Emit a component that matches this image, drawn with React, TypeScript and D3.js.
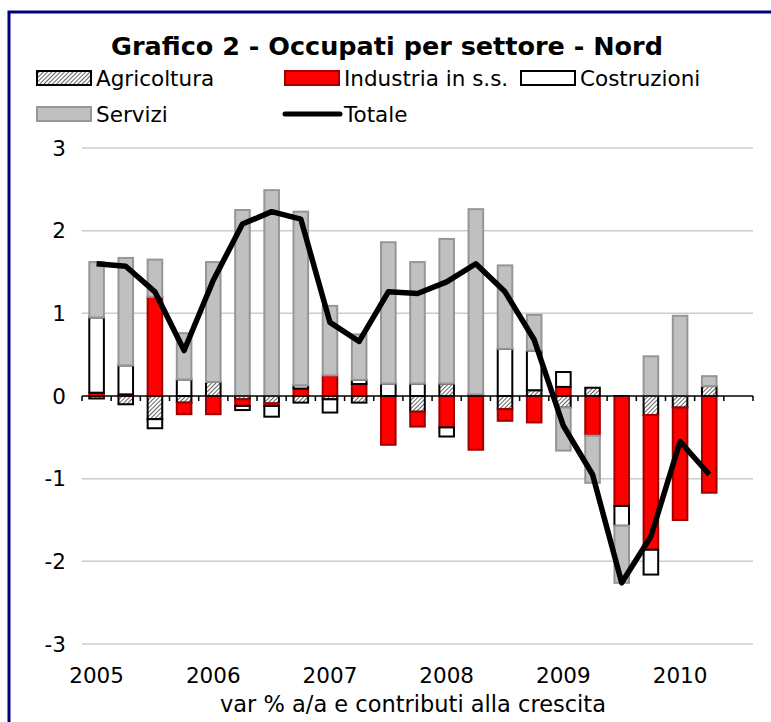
import React from "react";
import * as d3 from "d3";

// quarters 2005Q1..2010Q3 (last category left empty, as in the original)
const quarters = [
  "2005Q1", "2005Q2", "2005Q3", "2005Q4",
  "2006Q1", "2006Q2", "2006Q3", "2006Q4",
  "2007Q1", "2007Q2", "2007Q3", "2007Q4",
  "2008Q1", "2008Q2", "2008Q3", "2008Q4",
  "2009Q1", "2009Q2", "2009Q3", "2009Q4",
  "2010Q1", "2010Q2", "2010Q3",
];
const yearLabels = ["2005", "2006", "2007", "2008", "2009", "2010"];

const agricoltura = [-0.03, -0.1, -0.28, -0.08, 0.17, -0.04, -0.09, -0.08, -0.04, -0.08, 0, -0.19, 0.15, 0.02, -0.16, 0.07, -0.14, 0.1, 0, -0.23, -0.14, 0.12];
const industria = [0.04, 0.02, 1.2, -0.14, -0.22, -0.08, -0.03, 0.09, 0.25, 0.145, -0.59, -0.18, -0.38, -0.65, -0.14, -0.32, 0.11, -0.48, -1.33, -1.63, -1.36, -1.17];
const costruzioni = [0.91, 0.35, -0.11, 0.2, 0, -0.05, -0.13, 0.04, -0.16, 0.05, 0.15, 0.15, -0.11, 0, 0.57, 0.48, 0.18, 0, -0.24, -0.3, 0, 0];
const servizi = [0.67, 1.3, 0.45, 0.56, 1.45, 2.25, 2.49, 2.1, 0.84, 0.55, 1.71, 1.47, 1.75, 2.24, 1.01, 0.43, -0.52, -0.57, -0.69, 0.48, 0.97, 0.12];
const totale = [1.6, 1.57, 1.26, 0.55, 1.4, 2.08, 2.23, 2.14, 0.89, 0.66, 1.26, 1.24, 1.38, 1.6, 1.26, 0.68, -0.36, -0.95, -2.26, -1.7, -0.55, -0.95];

const yTicks = [3, 2, 1, 0, -1, -2, -3];
const seriesKeys = ["Agricoltura", "Industria in s.s.", "Costruzioni", "Servizi"];

const fills: Record<string, string> = {
  "Agricoltura": "url(#hatch)",
  "Industria in s.s.": "#ff0000",
  "Costruzioni": "#ffffff",
  "Servizi": "#c0c0c0",
};
const strokes: Record<string, string> = {
  "Agricoltura": "#000000",
  "Industria in s.s.": "#a00000",
  "Costruzioni": "#000000",
  "Servizi": "#969696",
};

const W = 771;
const H = 722;
const font = "'DejaVu Sans', Verdana, sans-serif";

export default function App() {
  const rows = totale.map((t, i) => ({
    q: quarters[i],
    "Agricoltura": agricoltura[i],
    "Industria in s.s.": industria[i],
    "Costruzioni": costruzioni[i],
    "Servizi": servizi[i],
  }));

  const stacked = d3
    .stack<any>()
    .keys(seriesKeys)
    .offset(d3.stackOffsetDiverging)(rows);

  const x = d3.scaleBand().domain(quarters).range([82, 753]).padding(0);
  const bw = x.bandwidth();
  const y = d3.scaleLinear().domain([-3, 3]).range([644, 148]);

  const line = d3
    .line<number>()
    .x((d, i) => (x(quarters[i]) as number) + bw / 2)
    .y((d) => y(d));

  const legend = [
    { key: "Agricoltura", lx: 37, ly: 78, kind: "rect" },
    { key: "Industria in s.s.", lx: 285, ly: 78, kind: "rect" },
    { key: "Costruzioni", lx: 521, ly: 78, kind: "rect" },
    { key: "Servizi", lx: 37, ly: 114, kind: "rect" },
    { key: "Totale", lx: 285, ly: 114, kind: "line" },
  ];

  return (
    <svg width={W} height={H} style={{ position: "absolute", left: 0, top: 0, background: "#fff" }}>
      <defs>
        <pattern id="hatch" width="3" height="3" patternUnits="userSpaceOnUse" patternTransform="rotate(45)">
          <rect width="3" height="3" fill="#ffffff" />
          <line x1="0" y1="0" x2="0" y2="3" stroke="#222" strokeWidth="1.4" />
        </pattern>
      </defs>
      <rect x={9} y={12} width={W + 20} height={H + 20} fill="#fff" stroke="#000080" strokeWidth={3} />

      <text x={387} y={55} textAnchor="middle" fontFamily={font} fontWeight="bold" fontSize={25.5}>
        Grafico 2 - Occupati per settore - Nord
      </text>

      {legend.map((l) => (
        <g key={l.key}>
          {l.kind === "rect" ? (
            <rect x={l.lx} y={l.ly - 7} width={54} height={14} fill={fills[l.key]} stroke={strokes[l.key]} strokeWidth={2} />
          ) : (
            <line x1={l.lx} x2={l.lx + 55} y1={l.ly} y2={l.ly} stroke="#000" strokeWidth={5} strokeLinecap="round" />
          )}
          <text x={l.lx + 59} y={l.ly + 8} fontFamily={font} fontSize={21.5}>
            {l.key}
          </text>
        </g>
      ))}

      {yTicks.map((t) => (
        <g key={t}>
          {t !== 0 && <line x1={82} x2={753} y1={y(t)} y2={y(t)} stroke="#cccccc" strokeWidth={1.5} />}
          <text x={66} y={y(t)} dy="0.36em" textAnchor="end" fontFamily={font} fontSize={21.5}>
            {t}
          </text>
        </g>
      ))}

      {stacked.map((s) => (
        <g key={s.key}>
          {s.map((d, i) => {
            const v0 = d[0];
            const v1 = d[1];
            if (v1 - v0 === 0) return null;
            return (
              <rect
                key={i}
                x={(x(d.data.q) as number) + bw * 0.25}
                width={bw * 0.5}
                y={y(Math.max(v0, v1))}
                height={Math.abs(y(v0) - y(v1))}
                fill={fills[s.key]}
                stroke={strokes[s.key]}
                strokeWidth={2}
              />
            );
          })}
        </g>
      ))}

      <line x1={82} x2={753} y1={y(0)} y2={y(0)} stroke="#000" strokeWidth={1.5} />
      {d3.range(quarters.length + 1).map((i) => (
        <line key={i} x1={82 + i * bw} x2={82 + i * bw} y1={y(0)} y2={y(0) + 5} stroke="#000" strokeWidth={1.5} />
      ))}

      <path d={line(totale) || ""} fill="none" stroke="#000" strokeWidth={5.5} strokeLinejoin="round" />

      {yearLabels.map((yl, k) => (
        <text key={yl} x={(x(quarters[k * 4]) as number) + bw / 2} y={683} textAnchor="middle" fontFamily={font} fontSize={21.5}>
          {yl}
        </text>
      ))}
      <text x={413} y={712} textAnchor="middle" fontFamily={font} fontSize={22.5}>
        var % a/a e contributi alla crescita
      </text>
    </svg>
  );
}
